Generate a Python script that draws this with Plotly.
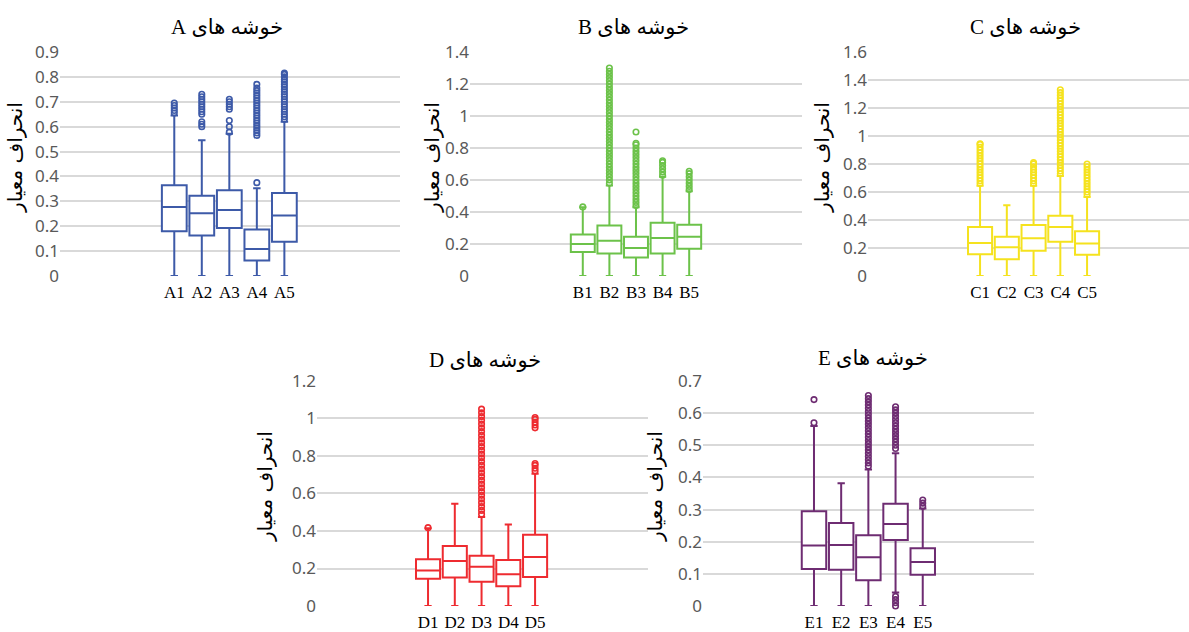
import plotly.graph_objects as go

# ---------------- data ----------------
A_names = ["A1", "A2", "A3", "A4", "A5"]
A_q1 = [0.180, 0.163, 0.193, 0.062, 0.138]
A_med = [0.277, 0.252, 0.265, 0.108, 0.243]
A_q3 = [0.365, 0.322, 0.345, 0.187, 0.333]
A_low = [0.0, 0.0, 0.0, 0.0, 0.0]
A_high = [0.645, 0.545, 0.572, 0.353, 0.620]
A_out = [
    [0.655, 0.665, 0.675, 0.685, 0.695],
    [0.60, 0.61, 0.62, 0.65, 0.66, 0.67, 0.68, 0.69, 0.70, 0.71, 0.72, 0.73],
    [0.578, 0.60, 0.625, 0.67, 0.68, 0.69, 0.70, 0.71],
    [0.375, 0.565, 0.575, 0.585, 0.595, 0.605, 0.615, 0.625, 0.635, 0.645, 0.655,
     0.665, 0.675, 0.685, 0.695, 0.705, 0.715, 0.725, 0.735, 0.745, 0.755, 0.77],
    [0.63, 0.64, 0.65, 0.66, 0.67, 0.68, 0.69, 0.70, 0.71, 0.72, 0.73, 0.74, 0.75,
     0.76, 0.77, 0.78, 0.79, 0.80, 0.81, 0.815],
]

B_names = ["B1", "B2", "B3", "B4", "B5"]
B_q1 = [0.150, 0.140, 0.115, 0.140, 0.170]
B_med = [0.200, 0.220, 0.175, 0.237, 0.245]
B_q3 = [0.260, 0.315, 0.245, 0.333, 0.320]
B_low = [0.0, 0.0, 0.0, 0.0, 0.0]
B_high = [0.430, 0.565, 0.430, 0.620, 0.530]
B_out = [
    [0.432],
    [0.58, 0.60, 0.62, 0.64, 0.66, 0.68, 0.70, 0.72, 0.74, 0.76, 0.78, 0.80, 0.82,
     0.84, 0.86, 0.88, 0.90, 0.92, 0.94, 0.96, 0.98, 1.00, 1.02, 1.04, 1.06, 1.08,
     1.10, 1.12, 1.14, 1.16, 1.18, 1.20, 1.22, 1.24, 1.26, 1.28, 1.30],
    [0.44, 0.46, 0.48, 0.50, 0.52, 0.54, 0.56, 0.58, 0.60, 0.62, 0.64, 0.66, 0.68,
     0.70, 0.72, 0.74, 0.76, 0.78, 0.80, 0.82, 0.83, 0.90],
    [0.63, 0.65, 0.67, 0.69, 0.71, 0.72],
    [0.54, 0.56, 0.58, 0.60, 0.62, 0.64, 0.655],
]

C_names = ["C1", "C2", "C3", "C4", "C5"]
C_q1 = [0.155, 0.120, 0.180, 0.245, 0.152]
C_med = [0.235, 0.205, 0.270, 0.350, 0.232]
C_q3 = [0.350, 0.280, 0.365, 0.430, 0.320]
C_low = [0.0, 0.0, 0.0, 0.0, 0.0]
C_high = [0.645, 0.505, 0.645, 0.715, 0.565]
C_out = [
    [0.66, 0.68, 0.70, 0.72, 0.74, 0.76, 0.78, 0.80, 0.82, 0.84, 0.86, 0.88, 0.90,
     0.92, 0.94, 0.945],
    [],
    [0.66, 0.68, 0.70, 0.72, 0.74, 0.76, 0.78, 0.80, 0.81],
    [0.73, 0.75, 0.77, 0.79, 0.81, 0.83, 0.85, 0.87, 0.89, 0.91, 0.93, 0.95, 0.97,
     0.99, 1.01, 1.03, 1.05, 1.07, 1.09, 1.11, 1.13, 1.15, 1.17, 1.19, 1.21, 1.23,
     1.25, 1.27, 1.29, 1.31, 1.33],
    [0.58, 0.60, 0.62, 0.64, 0.66, 0.68, 0.70, 0.72, 0.74, 0.76, 0.78, 0.80],
]

D_names = ["D1", "D2", "D3", "D4", "D5"]
D_q1 = [0.145, 0.152, 0.130, 0.105, 0.155]
D_med = [0.190, 0.240, 0.210, 0.170, 0.262]
D_q3 = [0.250, 0.320, 0.268, 0.245, 0.380]
D_low = [0.0, 0.0, 0.0, 0.0, 0.0]
D_high = [0.415, 0.545, 0.475, 0.435, 0.705]
D_out = [
    [0.418],
    [],
    [0.49, 0.51, 0.53, 0.55, 0.57, 0.59, 0.61, 0.63, 0.65, 0.67, 0.69, 0.71, 0.73,
     0.75, 0.77, 0.79, 0.81, 0.83, 0.85, 0.87, 0.89, 0.91, 0.93, 0.95, 0.97, 0.99,
     1.01, 1.03, 1.05],
    [],
    [0.72, 0.735, 0.75, 0.76, 0.95, 0.965, 0.98, 0.995, 1.005],
]

E_names = ["E1", "E2", "E3", "E4", "E5"]
E_q1 = [0.115, 0.113, 0.080, 0.205, 0.097]
E_med = [0.188, 0.190, 0.152, 0.255, 0.137]
E_q3 = [0.295, 0.258, 0.220, 0.318, 0.180]
E_low = [0.0, 0.0, 0.0, 0.042, 0.0]
E_high = [0.560, 0.382, 0.425, 0.475, 0.303]
E_out = [
    [0.57, 0.642],
    [],
    [0.435, 0.445, 0.455, 0.465, 0.475, 0.485, 0.495, 0.505, 0.515, 0.525, 0.535,
     0.545, 0.555, 0.565, 0.575, 0.585, 0.595, 0.605, 0.615, 0.625, 0.635, 0.645,
     0.655],
    [0.0, 0.01, 0.02, 0.03, 0.49, 0.50, 0.51, 0.52, 0.53, 0.54, 0.55, 0.56, 0.57,
     0.58, 0.59, 0.60, 0.61, 0.62],
    [0.31, 0.32, 0.33],
]

TITLE_WORD = "خوشه های"
Y_TITLE = "انحراف معیار"

# ---------------- layout config ----------------
panels = [
    dict(key="A", names=A_names, q1=A_q1, med=A_med, q3=A_q3, low=A_low, high=A_high,
         out=A_out, color="#3D5AA8", ymax=0.9, dtick=0.1,
         xdom=[0.0505, 0.3364], ydom=[0.5633, 0.9177], xr=[-3.15, 9.2],
         tx=0.1909, ty=0.9573, ax=0.0126, ay=0.7516),
    dict(key="B", names=B_names, q1=B_q1, med=B_med, q3=B_q3, low=B_low, high=B_high,
         out=B_out, color="#6CC24A", ymax=1.4, dtick=0.2,
         xdom=[0.3953, 0.6745], ydom=[0.5633, 0.9177], xr=[-3.24, 9.24],
         tx=0.5324, ty=0.9573, ax=0.3633, ay=0.7516),
    dict(key="C", names=C_names, q1=C_q1, med=C_med, q3=C_q3, low=C_low, high=C_high,
         out=C_out, color="#F5E21E", ymax=1.6, dtick=0.2,
         xdom=[0.7300, 1.0], ydom=[0.5633, 0.9177], xr=[-3.19, 8.81],
         tx=0.8629, ty=0.9573, ax=0.6913, ay=0.7516),
    dict(key="D", names=D_names, q1=D_q1, med=D_med, q3=D_q3, low=D_low, high=D_high,
         out=D_out, color="#EE2B30", ymax=1.2, dtick=0.2,
         xdom=[0.2666, 0.5450], ydom=[0.0411, 0.3972], xr=[-3.15, 9.22],
         tx=0.4079, ty=0.4304, ax=0.2229, ay=0.2294),
    dict(key="E", names=E_names, q1=E_q1, med=E_med, q3=E_q3, low=E_low, high=E_high,
         out=E_out, color="#6E2C72", ymax=0.7, dtick=0.1,
         xdom=[0.5913, 0.8696], ydom=[0.0411, 0.3972], xr=[-3.08, 9.09],
         tx=0.7342, ty=0.4335, ax=0.5509, ay=0.2294),
]

fig = go.Figure()
layout = dict(
    width=1189, height=632,
    margin=dict(l=0, r=0, t=0, b=0, autoexpand=False),
    paper_bgcolor="white", plot_bgcolor="white",
    showlegend=False,
    annotations=[],
)

for i, p in enumerate(panels, start=1):
    xa = "x" if i == 1 else f"x{i}"
    ya = "y" if i == 1 else f"y{i}"
    pos = list(range(1, len(p["names"]) + 1))
    fig.add_trace(go.Box(
        x=pos, q1=p["q1"], median=p["med"], q3=p["q3"],
        lowerfence=p["low"], upperfence=p["high"],
        boxpoints=False, width=0.9, whiskerwidth=0.3,
        line=dict(color=p["color"], width=2), fillcolor="white",
        xaxis=xa, yaxis=ya, hoverinfo="skip",
    ))
    ox, oy = [], []
    for k, vals in enumerate(p["out"]):
        ox += [pos[k]] * len(vals)
        oy += vals
    fig.add_trace(go.Scatter(
        x=ox, y=oy, mode="markers", cliponaxis=False,
        marker=dict(symbol="circle-open", size=5.5, color=p["color"],
                    line=dict(width=1.6, color=p["color"])),
        xaxis=xa, yaxis=ya, hoverinfo="skip",
    ))
    xkey = "xaxis" if i == 1 else f"xaxis{i}"
    ykey = "yaxis" if i == 1 else f"yaxis{i}"
    layout[xkey] = dict(
        domain=p["xdom"], anchor=ya, range=p["xr"], automargin=False,
        tickmode="array", tickvals=pos, ticktext=p["names"],
        showgrid=False, zeroline=False, showline=False, ticks="",
        ticklabelstandoff=4,
        tickfont=dict(family="Liberation Serif", size=17, color="#000000"),
        fixedrange=True,
    )
    layout[ykey] = dict(
        domain=p["ydom"], anchor=xa, range=[0, p["ymax"]], dtick=p["dtick"],
        automargin=False,
        showgrid=True, gridcolor="#D9D9D9", gridwidth=1.5,
        zeroline=False, showline=False, ticks="",
        tickfont=dict(family="Noto Sans", size=17, color="#595959"),
        fixedrange=True,
    )
    layout["annotations"].append(dict(
        text="\u202b" + TITLE_WORD + " " + p["key"] + "\u202c",
        x=p["tx"], y=p["ty"], xref="paper", yref="paper",
        xanchor="center", yanchor="middle", showarrow=False,
        font=dict(family="Liberation Serif, DejaVu Sans", size=21, color="#000000"),
    ))
    layout["annotations"].append(dict(
        text=Y_TITLE, textangle=-90,
        x=p["ax"], y=p["ay"], xref="paper", yref="paper",
        xanchor="center", yanchor="middle", showarrow=False,
        font=dict(family="DejaVu Sans", size=20, color="#000000"),
    ))

fig.update_layout(**layout)
fig.write_html(
    "out.html",
    config={"displayModeBar": False},
    post_script="document.body.style.margin='0px';document.body.style.overflow='hidden';",
)
